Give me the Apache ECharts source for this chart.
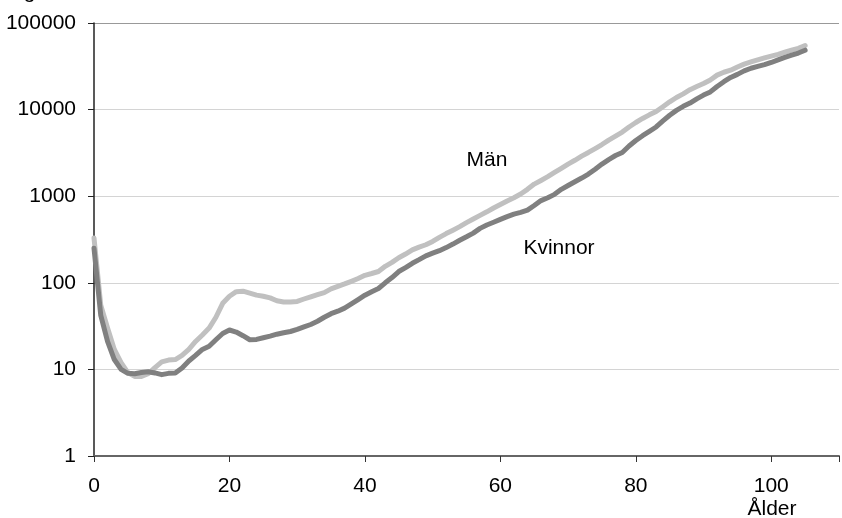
<!DOCTYPE html>
<html>
<head>
<meta charset="utf-8">
<script src="https://cdn.jsdelivr.net/npm/echarts@6/dist/echarts.min.js"></script>
<style>
html,body{margin:0;padding:0;background:#fff;}
#chart{width:842px;height:518px;}
</style>
</head>
<body>
<div id="chart"></div>
<script>
// Ages 0..105
var ages = Array.from({length: 106}, function (_, i) { return i; });

// Män (per 100 000)
var man = [
  330, 55, 30, 17, 12, 9.2, 8.3, 8.3, 8.9, 10.5,
  12.2, 12.8, 13, 14.5, 17, 21, 25, 30, 40, 58,
  70, 79, 80, 76, 72, 70, 67, 62, 60, 60,
  61, 65, 69, 73, 77, 85, 91, 97, 104, 112,
  122, 128, 135, 155, 172, 195, 215, 240, 258, 275,
  300, 335, 370, 405, 445, 495, 545, 600, 660, 730,
  800, 880, 960, 1060, 1200, 1380, 1520, 1680, 1880, 2100,
  2350, 2600, 2900, 3200, 3550, 3950, 4450, 4950, 5500, 6300,
  7100, 7900, 8700, 9500, 10800, 12300, 13800, 15200, 17000, 18500,
  20000, 22000, 25000, 27000, 28500, 31000, 33500, 35500, 37500, 39500,
  41500, 43500, 46000, 48500, 51000, 55000
];

// Kvinnor (per 100 000)
var kvinnor = [
  250, 42, 21, 13, 10, 9.0, 8.9, 9.2, 9.4, 9.1,
  8.7, 9.0, 9.1, 10.4, 12.5, 14.5, 17, 18.5, 22, 26,
  28.5, 27, 24.5, 22, 22.2, 23.2, 24.2, 25.5, 26.5, 27.4,
  29, 31, 33, 36, 40, 44, 47, 51, 57, 64,
  72, 79, 86, 100, 115, 135, 150, 168, 185, 205,
  220, 235, 255, 280, 310, 340, 375, 425, 465, 500,
  540, 580, 620, 650, 690, 780, 890, 960, 1050, 1200,
  1330, 1470, 1620, 1800, 2050, 2350, 2650, 2950, 3200, 3800,
  4400, 5000, 5600, 6300, 7400, 8600, 9800, 10900, 11900, 13300,
  14700, 16000, 18500, 21000, 23500, 25500, 28000, 30000, 31500, 33000,
  35000, 37500, 40000, 42500, 45000, 48500
];

var yTickLabels = ['1', '10', '100', '1000', '10000', '100000'];
var xTickLabels = ['0', '20', '40', '60', '80', '100'];
var seriesNames = ['Män', 'Kvinnor'];
var axisName = 'Ålder';

var FONT = '"Liberation Sans", Arial, sans-serif';
var FS = 21;

function pairs(vals) {
  return ages.map(function (a, i) { return [a, vals[i]]; });
}

var chart = echarts.init(document.getElementById('chart'), null, {renderer: 'canvas'});
chart.setOption({
  animation: false,
  backgroundColor: '#ffffff',
  grid: {left: 94, top: 23, width: 759, height: 433, containLabel: false},
  xAxis: {
    type: 'value', min: 0, max: 110, interval: 20,
    axisLine: {show: true, lineStyle: {color: '#666', width: 2}},
    axisTick: {show: true, inside: false, length: 6, lineStyle: {color: '#333', width: 1}},
    splitLine: {show: false},
    axisLabel: {
      color: '#000', fontFamily: FONT, fontSize: FS, margin: 20,
      formatter: function (v) { var i = xTickLabels.indexOf(String(v)); return i >= 0 ? xTickLabels[i] : ''; }
    }
  },
  yAxis: {
    type: 'log', logBase: 10, min: 1, max: 100000,
    axisLine: {show: true, lineStyle: {color: '#222', width: 1.5}},
    axisTick: {show: true, inside: false, length: 6, lineStyle: {color: '#222', width: 1}},
    splitLine: {show: true, lineStyle: {color: ['#d4d4d4', '#d4d4d4', '#d4d4d4', '#d4d4d4', '#d4d4d4', '#999999'], width: 1.2}},
    axisLabel: {
      color: '#000', fontFamily: FONT, fontSize: FS, margin: 18,
      formatter: function (v) { var i = Math.round(Math.log10(v)); return yTickLabels[i] || ''; }
    }
  },
  series: [
    {
      name: seriesNames[0], type: 'line', data: pairs(man), showSymbol: false, symbol: 'none',
      lineStyle: {color: '#c0c0c0', width: 5, cap: 'round', join: 'round'}, z: 2
    },
    {
      name: seriesNames[1], type: 'line', data: pairs(kvinnor), showSymbol: false, symbol: 'none',
      lineStyle: {color: '#808080', width: 5, cap: 'round', join: 'round'}, z: 3
    }
  ],
  graphic: [
    {type: 'text', left: -24, top: -18, style: {text: 'Dödlighet', fill: '#000', font: FS + 'px ' + FONT}},
    {type: 'text', x: 487, y: 160.5, style: {text: seriesNames[0], fill: '#000', font: FS + 'px ' + FONT, textAlign: 'center', textVerticalAlign: 'middle'}},
    {type: 'text', x: 559, y: 248.5, style: {text: seriesNames[1], fill: '#000', font: FS + 'px ' + FONT, textAlign: 'center', textVerticalAlign: 'middle'}},
    {type: 'text', x: 772, y: 509, style: {text: axisName, fill: '#000', font: FS + 'px ' + FONT, textAlign: 'center', textVerticalAlign: 'middle'}}
  ]
});
</script>
</body>
</html>
